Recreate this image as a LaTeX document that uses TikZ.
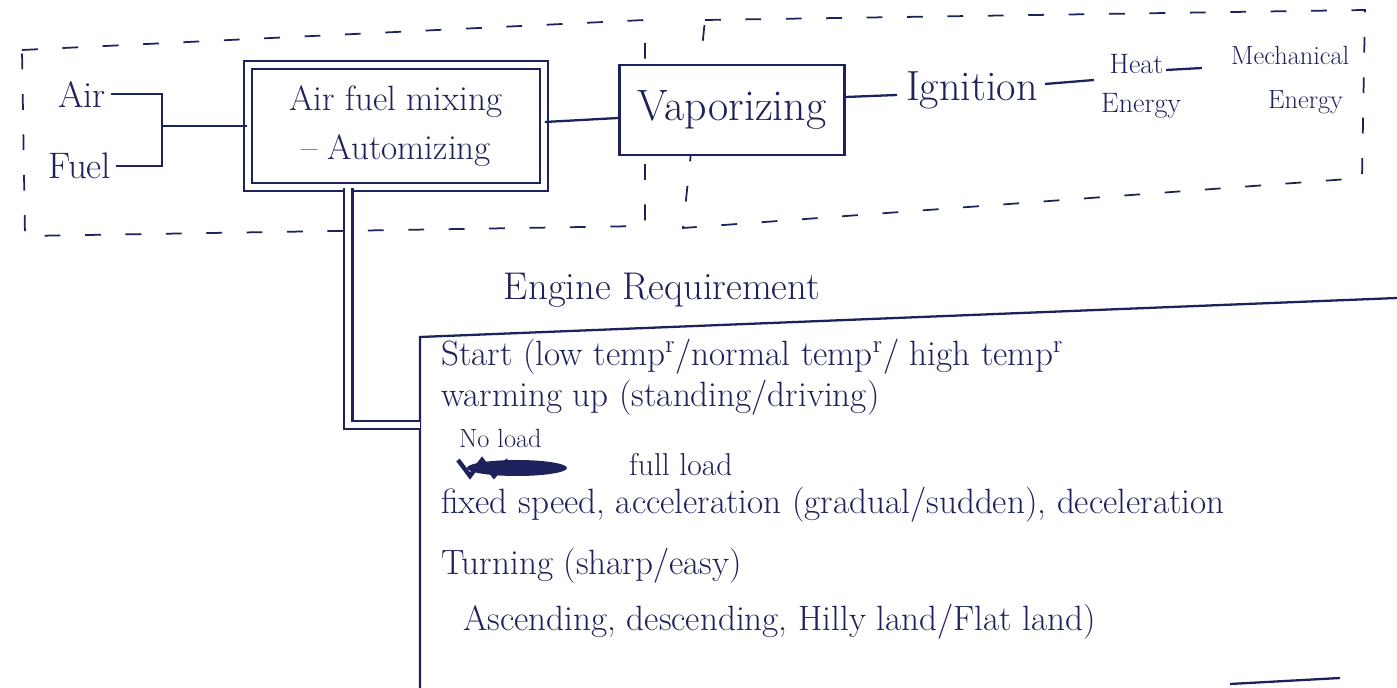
\documentclass[tikz,border=0pt]{standalone}
\usetikzlibrary{calc}
\definecolor{ink}{RGB}{30,34,92}
\begin{document}
\begin{tikzpicture}[x=0.02cm,y=-0.02cm, line width=1.3pt, draw=ink,
  every node/.style={text=ink, inner sep=0pt},
  fs/.style={font=\fontsize{#1}{#1}\selectfont},
  dashbox/.style={draw, dash pattern=on 9pt off 14pt, line width=1pt},
  procbox/.style={draw, fill=white, line width=1.4pt, align=center},
  dbl/.style={double=white, double distance=0.12cm, line width=1.2pt},
  line/.style={anchor=west, fs=20}]
\useasboundingbox (0,0) rectangle (1397,688);
\fill[white] (0,0) rectangle (1397,688);

% dashed regions
\draw[dashbox] (22,50) -- (645,20) -- (645,226) -- (25,236) -- cycle;
\draw[dashbox] (705,20) -- (1365,10) -- (1362,178) -- (683,228) -- cycle;

% inputs
\node[fs=21] (air) at (82,94) {Air};
\node[fs=21] (fuel) at (80,166) {Fuel};

% process boxes
\node[procbox, dbl, fs=20, minimum width=5.91cm, minimum height=2.45cm] (mix) at (396,126) {Air fuel mixing\\[8pt] -- Automizing};
\node[procbox, fs=25, minimum width=4.5cm, minimum height=1.8cm] (vap) at (732,110) {Vaporizing};

\coordinate (brk) at (162,126);
\draw ($(air.east)+(4,0)$) -- (air.east -| brk) -- (fuel.east -| brk) -- ($(fuel.east)+(4,0)$);
\draw (brk) -- (mix.west);
\draw ($(mix.east)+(0,-4)$) -- ($(vap.west)+(0,8)$);

% chain
\node[fs=24, anchor=west] (ign) at (905,90) {Ignition};
\node[fs=16, align=left, anchor=west] (heat) at (1100,86) {\hspace*{0.3em}Heat\\[6pt]Energy};
\node[fs=15, align=left, anchor=west] (mech) at (1230,80) {Mechanical\\[10pt]\hspace*{1.4em}Energy};
\draw ($(vap.east)+(0,-13)$) -- ($(ign.west)+(-8,5)$);
\draw ($(ign.east)+(6,-6)$) -- ($(heat.west)+(-6,-6)$);
\draw ($(heat.west)+(66,-16)$) -- ($(mech.west)+(-28,-12)$);

% engine requirement
\node[fs=22] (req) at (662,290) {Engine Requirement};
\coordinate (btl) at (420,337);
\coordinate (btr) at (1397,298);
\coordinate (bbl) at (420,688);
\draw (btr) -- (btl) -- (bbl);
\draw (1230,684) -- (1340,678);

\coordinate (link) at (420,425);
\draw[dbl] ($(mix.south west)!0.34!(mix.south east)$) |- (link);

% requirement lines
\node[line] (l1) at (440,357) {Start (low temp\textsuperscript{r}/normal temp\textsuperscript{r}/ high temp\textsuperscript{r}};
\node[line] (l2) at (440,398) {warming up (standing/driving)};
\node[anchor=west, fs=15] (l3) at (458,438) {No load};
\node[anchor=west, fs=18] (l4) at (628,465) {full load};
\fill[ink] (517,468) ellipse (50 and 8);
\draw[line width=2.5pt] (458,460) -- (470,476) -- (482,460) -- (494,476) -- (508,460);
\node[line] (l5) at (440,505) {fixed speed, acceleration (gradual/sudden), deceleration};
\node[line] (l6) at (440,566) {Turning (sharp/easy)};
\node[line] (l7) at (462,622) {Ascending, descending, Hilly land/Flat land)};
\end{tikzpicture}
\end{document}
